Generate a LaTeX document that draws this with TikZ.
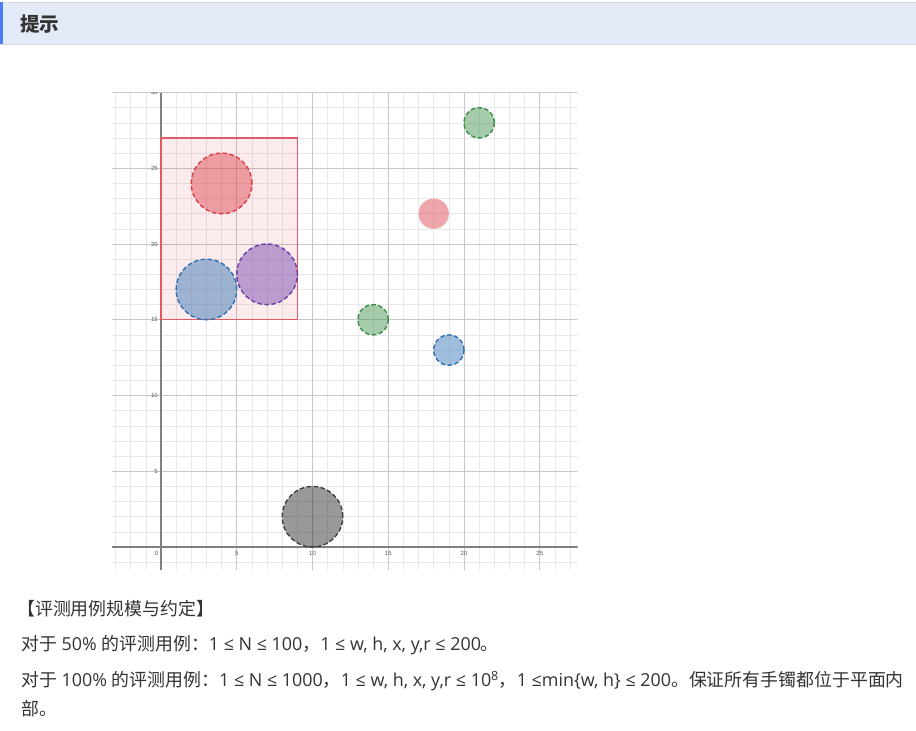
\documentclass[tikz,border=0pt]{standalone}
\usepackage{fontspec}
\setmainfont{Open Sans}
\newfontfamily\cjk{Noto Sans CJK SC}
\newfontfamily\tickfont{Liberation Sans}
\definecolor{txt}{RGB}{51,51,51}
\definecolor{hdrbg}{RGB}{228,234,247}
\definecolor{hdrbar}{RGB}{74,125,240}
\definecolor{hdrline}{RGB}{215,218,224}
\definecolor{cred}{RGB}{220,60,70}
\definecolor{cblue}{RGB}{45,112,179}
\definecolor{cpurple}{RGB}{110,60,170}
\definecolor{cgreen}{RGB}{56,140,70}
\definecolor{cblack}{RGB}{0,0,0}
\newcommand{\zh}[1]{{\cjk #1}}

\begin{document}
\begin{tikzpicture}[x=1pt, y=-1pt,
  textline/.style={anchor=west, inner sep=0pt, text=txt, font=\fontsize{17.9}{18}\selectfont},
  minor/.style={black!9, line width=0.6pt},
  major/.style={black!22, line width=0.8pt},
  axis/.style={black!50, line width=1.1pt},
  tick/.style={inner sep=0pt, text=black!65, font=\tickfont\fontsize{6}{6}\selectfont},
  ring/.style={line width=1.4pt, dash pattern=on 4.5pt off 2.5pt, fill opacity=0.45}]
\useasboundingbox (0,0) rectangle (916,731);
\fill[white] (0,0) rectangle (916,731);
\fill[hdrbg] (0,2) rectangle (916,44);
\draw[hdrline] (0,2.5) -- (916,2.5) (0,44) -- (916,44);
\fill[hdrbar] (0,2) rectangle (3,44);
\node (title) [anchor=west, inner sep=0pt, text=txt, font=\cjk\bfseries\fontsize{19.5}{20}\selectfont] at (20,24) {提示};

\begin{scope}[shift={(161,547)}, x=15.15pt, y=15.15pt]
\clip (-3.25,-1.5) rectangle (27.5,30);
\foreach \i in {-3,...,27} \draw[minor] (\i,-1.5) -- (\i,30);
\foreach \j in {-1,...,30} \draw[minor] (-3.25,\j) -- (27.5,\j);
\foreach \i in {5,10,...,25} \draw[major] (\i,-1.5) -- (\i,30);
\foreach \j in {5,10,...,30} \draw[major] (-3.25,\j) -- (27.5,\j);
\draw[axis] (0,-1.5) -- (0,30);
\draw[axis] (-3.25,0) -- (27.5,0);
\node (x0) [tick] at (-0.3,-0.4) {0};
\foreach \i in {5,10,...,25} \node (x\i) [tick] at (\i,-0.4) {\i};
\foreach \j in {5,10,...,30} \node (y\j) [tick, anchor=east] at (-0.2,\j) {\j};

\filldraw[draw=cred!85, fill=cred, fill opacity=0.1, line width=1.2pt] (0,15) rectangle (9,27);
\filldraw[ring, draw=cred, fill=cred] (4,24) circle[radius=2];
\filldraw[ring, draw=cblue, fill=cblue] (3,17) circle[radius=2];
\filldraw[ring, draw=cpurple, fill=cpurple] (7,18) circle[radius=2];
\filldraw[ring, draw=cgreen, fill=cgreen] (21,28) circle[radius=1];
\fill[cred, fill opacity=0.45] (18,22) circle[radius=1];
\filldraw[ring, draw=cgreen, fill=cgreen] (14,15) circle[radius=1];
\filldraw[ring, draw=cblue, fill=cblue] (19,13) circle[radius=1];
\filldraw[ring, draw=cblack!75, fill=cblack, fill opacity=0.4] (10,2) circle[radius=2];
\end{scope}

\node (scale) [textline] at (17,609) {\zh{【评测用例规模与约定】}};
\node (half) [textline] at (21,645) {\zh{对于} 50\% \zh{的评测用例：}1 ≤ N ≤ 100\zh{，}1 ≤ w, h, x, y,r ≤ 200\zh{。}};
\node (full) [textline] at (21,681) {\zh{对于} 100\% \zh{的评测用例：}1 ≤ N ≤ 1000\zh{，}1 ≤ w, h, x, y,r ≤ 10\textsuperscript{8}\zh{，}1 ≤min\{w, h\} ≤ 200\zh{。保证所有手镯都位于平面内}};
\node (tail) [textline] at (21,709) {\zh{部。}};
\end{tikzpicture}
\end{document}
